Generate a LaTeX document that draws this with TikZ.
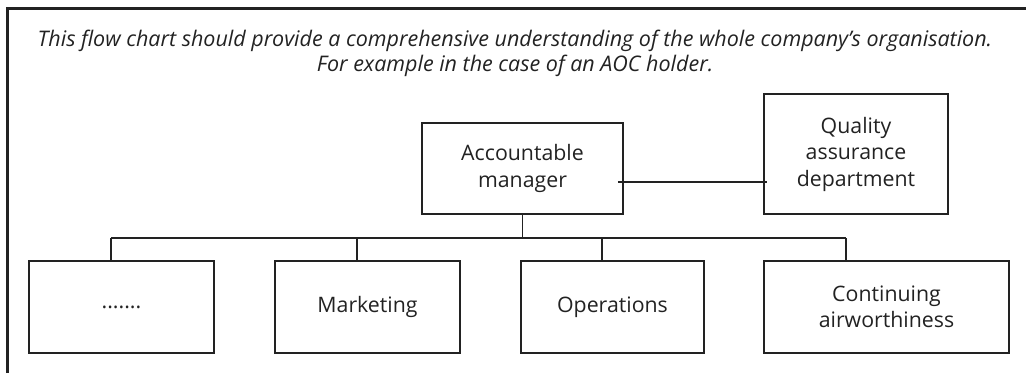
\documentclass[tikz,border=0pt]{standalone}
\usepackage{fontspec}
\setmainfont{Open Sans}
\definecolor{ink}{HTML}{222222}
\begin{document}
\begin{tikzpicture}[x=1pt,y=-1pt,
  box/.style={draw=ink,text=ink,line width=1.8pt,rectangle,align=center,inner sep=0pt,
    font=\fontsize{21.3}{26.5}\selectfont},
  link/.style={draw=ink,line width=1.3pt}]
\useasboundingbox (0,0) rectangle (1026,373);
\draw[ink,line width=2.2pt] (7.5,373) -- (7.5,8.5) -- (1026,8.5);
\node[align=center,inner sep=0pt,text=ink,font=\fontsize{21.5}{24.5}\itshape\selectfont] (title) at (515,53.5)
  {This flow chart should provide a comprehensive understanding of the whole company's organisation.\\
   For example in the case of an AOC holder.};
\node[box,minimum width=201pt,minimum height=91pt] (am) at (522.5,168.5) {Accountable\\manager};
\node[box,minimum width=184pt,minimum height=120pt] (qa) at (856,154) {Quality\\assurance\\department};
\node[box,minimum width=185pt,minimum height=92pt] (b1) at (121.5,307) {.......};
\node[box,minimum width=185pt,minimum height=92pt] (b2) at (367.5,307) {Marketing};
\node[box,minimum width=183pt,minimum height=92pt] (b3) at (612.5,307) {Operations};
\node[box,minimum width=245pt,minimum height=92pt] (b4) at (886.5,307) {Continuing\\airworthiness};
\coordinate (busL) at (111,238);
\coordinate (busR) at (846,238);
\draw[link] ([xshift=-6pt,yshift=-13.5pt]am.east) -- ([xshift=4pt,yshift=-13.5pt]am.east -| qa.west);
\draw[link] (am.south) -- (am.south |- busL);
\draw[link] (busL) -- (busR);
\draw[link] (busL) -- (busL |- b1.north);
\draw[link] ([xshift=-10.5pt]b2.north) -- ([xshift=-10.5pt]b2.north |- busL);
\draw[link] ([xshift=-10.5pt]b3.north) -- ([xshift=-10.5pt]b3.north |- busL);
\draw[link] (busR) -- (busR |- b4.north);
\end{tikzpicture}
\end{document}
